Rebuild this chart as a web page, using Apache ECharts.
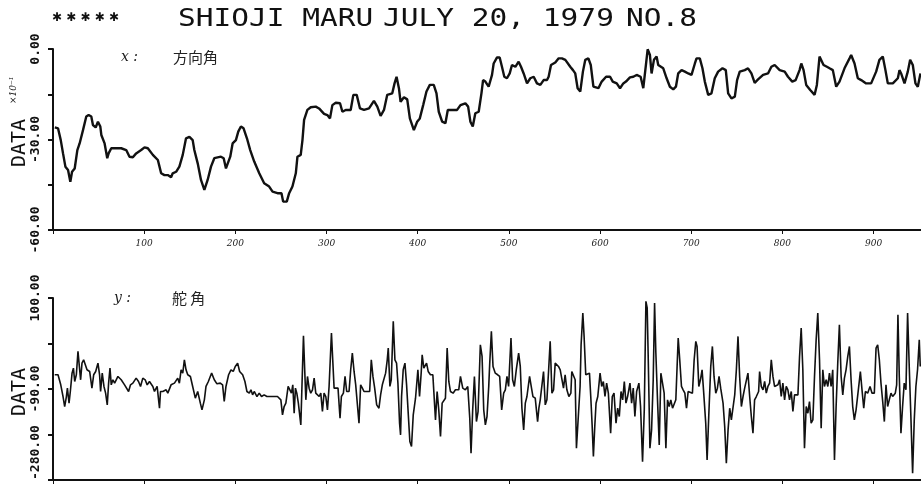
<!DOCTYPE html>
<html><head><meta charset="utf-8">
<script src="https://cdn.jsdelivr.net/npm/echarts@6/dist/echarts.min.js"></script>
<style>html,body{margin:0;padding:0;background:#fff}#c{width:921px;height:491px}</style>
</head><body><div id="c"></div>
<script>
// x: heading (方向角), values x10^-1
const headingData = [[2,-26.0],[5.5,-26.3],[8.5,-30.2],[11,-34.6],[13.6,-39.0],[16.5,-40.1],[19,-44.0],[20.9,-40.7],[23.8,-39.6],[26.7,-33.5],[29.2,-31.3],[32.9,-26.9],[36.5,-22.4],[39.1,-21.9],[42,-22.4],[43.8,-25.2],[46.8,-26.0],[49.3,-24.1],[51.9,-25.7],[53,-28.5],[56.6,-31.3],[59.5,-36.2],[61,-34.6],[63.9,-32.9],[69.4,-32.9],[74.8,-32.9],[80.3,-33.5],[83.9,-35.7],[87.6,-35.9],[91.2,-34.6],[96.7,-33.5],[100.4,-32.6],[104,-32.9],[109.5,-35.1],[115,-36.8],[116.8,-39.0],[118.6,-41.2],[122.2,-41.8],[125.9,-41.8],[129.5,-42.5],[131.3,-41.2],[135,-40.7],[138.6,-39.0],[142.3,-35.1],[145.9,-29.6],[149.6,-29.1],[153.2,-30.2],[155,-33.5],[158.7,-37.9],[162.3,-43.4],[166,-46.7],[169.6,-43.4],[173.3,-39.0],[176.9,-36.2],[184.2,-35.7],[187.2,-36.2],[189.7,-39.6],[191.5,-39.6],[194.4,-35.7],[197,-31.3],[200.6,-30.2],[203.2,-27.4],[206.1,-25.7],[209,-26.3],[212.7,-29.6],[216.3,-33.5],[220.7,-37.3],[226.2,-41.2],[231.6,-44.5],[237.1,-45.6],[240.8,-47.3],[246.2,-47.8],[250.6,-47.8],[252.4,-50.6],[256.4,-50.6],[259,-47.8],[262.6,-45.6],[266.3,-41.2],[268.1,-35.7],[271.7,-35.1],[273.6,-30.2],[275.4,-23.5],[279,-20.2],[282.7,-19.3],[288.2,-19.1],[291.8,-19.7],
[297.3,-21.5],[300.9,-21.9],[303.8,-23.0],[306.4,-18.6],[310.1,-17.8],[314.8,-18.0],[317.4,-20.8],[321,-20.2],[326.5,-20.2],[329.4,-15.2],[333.1,-15.2],[336.7,-19.7],[341.1,-20.2],[346.6,-19.7],[352,-17.2],[355.7,-19.1],[359.3,-22.2],[363,-20.2],[366.6,-15.2],[372.1,-14.7],[374.6,-11.4],[376.8,-9.2],[379.4,-13.0],[381.2,-17.5],[384.9,-16.0],[388.5,-16.7],[391.4,-23.0],[395.8,-26.9],[399.4,-24.1],[402.3,-23.0],[406,-18.6],[409.6,-14.1],[413.3,-11.9],[417.6,-11.9],[420.6,-14.7],[423.1,-20.8],[426.8,-24.1],[430.4,-24.6],[433,-20.2],[437.7,-20.2],[443.2,-20.2],[446.9,-18.6],[452.3,-18.0],[455.3,-19.1],[457.8,-24.1],[460.4,-25.7],[463.2,-21.3],[466.9,-20.8],[469.9,-14.7],[471.7,-10.3],[474.2,-10.8],[477.8,-12.5],[481.5,-8.6],[483.3,-4.8],[487,-2.8],[489.9,-2.8],[492.4,-5.9],[495,-9.2],[497.9,-9.7],[500.9,-8.1],[503.4,-5.3],[507.1,-5.9],[510.7,-4.2],[513.3,-5.9],[516.2,-8.1],[519.9,-11.4],[523.5,-9.7],[527.2,-9.2],[530.8,-11.4],[534.5,-11.9],[538.1,-10.3],[541.8,-10.3],[543.6,-9.2],[546.2,-5.3],[550.9,-4.5],[554.6,-3.1],[558.2,-3.1],[561.9,-3.6],[567.3,-5.9],[570.3,-7.0],[572.8,-8.1],[575.4,-13.0],[578.3,-14.1],[581.2,-7.5],[583.8,-3.6],[587.2,-3.1],[589.8,-5.3],[592.7,-12.5],[598.2,-13.0],[601.8,-10.8],[606.6,-9.2],[611,-9.2],[613.9,-10.8],[618.3,-11.4],[621.9,-13.0],
[625.5,-11.4],[628.4,-10.8],[632.8,-9.4],[636.5,-9.2],[640.1,-8.6],[644.5,-9.2],[647.4,-13.0],[650.3,-5.3],[652.2,-0.1],[654.7,-2.0],[656.5,-8.1],[659.1,-3.6],[662,-2.5],[663.8,-5.3],[665.7,-5.9],[669.3,-6.4],[673,-9.7],[676.6,-12.5],[680.3,-13.4],[683.2,-12.5],[685.7,-8.1],[689.4,-7.0],[693,-7.5],[696.7,-8.1],[700.3,-8.6],[704,-4.8],[705.8,-3.1],[709.4,-3.1],[712.3,-6.4],[714.9,-10.8],[718.6,-15.2],[722.2,-14.7],[725.8,-9.7],[729.5,-7.5],[734.3,-6.4],[737.9,-7.0],[740.5,-14.7],[744.1,-16.4],[747.8,-15.8],[750.3,-10.3],[753.2,-7.5],[758.7,-7.0],[762.3,-6.4],[766,-8.1],[769.6,-11.2],[773.3,-10.1],[778.8,-8.6],[784.2,-8.1],[787.9,-5.9],[791.5,-5.3],[797,-7.0],[802.5,-7.5],[806.1,-9.2],[810.8,-10.8],[814.5,-10.3],[818.8,-7.0],[820.7,-4.8],[823.2,-7.0],[826.1,-11.9],[830.5,-13.6],[835.3,-15.2],[837.8,-11.9],[840.7,-2.5],[842.6,-2.0],[845.1,-5.3],[848.8,-5.9],[851.7,-6.4],[855.3,-7.0],[859,-12.5],[862.6,-10.8],[868.1,-6.4],[873.6,-3.1],[875.4,-2.0],[879.1,-4.8],[882.7,-9.7],[886.4,-10.3],[891.8,-11.4],[897.3,-11.4],[902.8,-7.5],[906.4,-3.6],[910.1,-2.5],[913,-7.0],[915.6,-11.4],[921.1,-11.4],[926.6,-9.7],[928.4,-7.0],[930.2,-8.1],[933.9,-11.4],[937.5,-7.5],[940.1,-3.6],[943,-5.3],[945.9,-11.4],[948.5,-12.5],[951.4,-8.1]];

// y: rudder angle (舵角)
const rudderData = [[1.9,-60.3],[5.5,-60.3],[8.5,-81.3],[11.0,-105.7],[12.8,-126.6],[14.7,-105.7],[15.8,-88.2],[17.6,-119.6],[19.0,-95.2],[20.9,-56.9],[22.4,-46.4],[23.8,-74.3],[25.6,-60.3],[27.4,-11.5],[28.9,-42.9],[30.3,-70.8],[31.8,-35.9],[33.6,-29.0],[35.4,-25.5],[37.3,-49.9],[40.2,-53.4],[42.7,-88.2],[44.6,-60.3],[46.8,-53.4],[49.3,-35.9],[51.1,-60.3],[52.2,-95.2],[54.0,-56.9],[55.9,-84.7],[57.7,-98.7],[59.5,-123.1],[61.0,-77.8],[62.5,-46.4],[63.9,-81.3],[65.7,-70.8],[67.6,-77.8],[71.2,-63.8],[74.8,-70.8],[78.5,-81.3],[80.3,-77.8],[82.9,-95.2],[85.0,-81.3],[87.6,-77.8],[91.2,-67.3],[93.8,-74.3],[96.0,-84.7],[98.5,-67.3],[101.1,-70.8],[103.3,-81.3],[105.8,-74.3],[109.5,-84.7],[111.3,-95.2],[114.2,-84.7],[116.8,-130.1],[117.9,-95.2],[120.4,-95.2],[124.1,-91.7],[125.9,-98.7],[127.7,-102.2],[129.5,-81.3],[131.3,-84.7],[133.2,-77.8],[135.0,-81.3],[136.8,-67.3],[138.6,-77.8],[140.5,-49.9],[142.3,-56.9],[144.1,-29.0],[145.9,-49.9],[147.8,-60.3],[150.7,-63.8],[153.2,-84.7],[156.1,-109.2],[158.7,-95.2],[161.6,-119.6],[163.4,-133.5],[166.0,-112.6],[167.8,-84.7],[170.4,-74.3],[172.5,-63.8],[174.0,-56.9],[176.9,-70.8],[179.8,-79.2],[183.5,-77.8],[186.0,-81.3],[187.8,-116.1],[189.7,-84.7],[192.6,-60.3],[195.2,-49.9],[197.7,-53.4],[199.9,-42.9],[202.5,-35.9],[204.7,-53.4],[208.0,-60.3],[210.5,-74.3],[212.7,-95.2],[215.3,-98.7],[217.1,-91.7],[218.9,-102.2],[220.7,-95.2],[223.7,-105.7],[226.2,-98.7],[228.7,-105.7],[231.6,-102.2],[234.6,-105.7],[238.2,-105.7],[242.6,-105.7],[246.2,-105.7],[249.9,-112.6],[251.7,-144.0],[253.5,-126.6],[255.4,-119.6],[257.9,-84.7],[259.4,-81.3],[261.5,-98.7],[263.0,-81.3],[264.5,-140.5],[265.9,-88.2],[267.4,-98.7],[269.1,-119.6],
[271.8,-164.9],[274.7,21.2],[276.2,-56.9],[277.3,-112.6],[279.1,-63.8],[280.9,-88.2],[282.7,-98.7],[284.6,-91.7],[286.4,-67.3],[288.2,-98.7],[290.0,-95.2],[291.9,-105.7],[293.7,-98.7],[295.5,-137.0],[297.3,-98.7],[299.2,-105.7],[301.0,-133.5],[302.8,-84.7],[305.4,26.8],[306.8,-29.0],[308.3,-88.2],[310.1,-84.7],[312.6,-88.2],[314.8,-151.0],[316.3,-105.7],[318.5,-98.7],[320.3,-63.8],[322.1,-95.2],[324.7,-95.2],[326.5,-49.9],[328.3,-15.0],[330.2,-53.4],[332.0,-81.3],[333.8,-77.8],[335.6,-161.4],[337.4,-81.3],[339.3,-88.2],[341.1,-95.2],[344.7,-95.2],[347.3,-95.2],[349.1,-29.0],[350.9,-63.8],[352.8,-88.2],[355.0,-123.1],[357.5,-130.1],[359.3,-102.2],[361.2,-81.3],[363.0,-77.8],[364.8,-56.9],[366.6,-29.0],[367.7,-4.6],[369.5,-84.7],[371.0,-70.8],[373.2,51.2],[375.0,-29.0],[376.8,-35.9],[378.3,-77.8],[380.1,-161.4],[381.2,-185.8],[382.3,-105.7],[384.1,-49.9],[386.0,-35.9],[387.8,-81.3],[389.6,-84.7],[391.4,-199.8],[393.2,-210.2],[395.1,-144.0],[397.6,-109.2],[400.2,-49.9],[402.0,-105.7],[403.8,-56.9],[404.9,-18.5],[406.7,-46.4],[409.7,-35.9],[411.5,-53.4],[414.0,-60.3],[416.6,-60.3],[417.7,-63.8],[419.5,-154.5],[421.3,-95.2],[423.1,-133.5],[425.0,-189.3],[426.8,-119.6],[428.6,-123.1],[430.4,-109.2],[432.3,-4.6],[434.1,-74.3],[435.9,-95.2],[438.8,-98.7],[441.4,-91.7],[445.0,-91.7],[446.9,-63.8],[449.4,-88.2],[452.3,-91.7],[454.9,-84.7],[457.1,-151.0],[458.5,-224.2],[460.3,-133.5],[462.2,-63.8],[464.4,-158.0],[466.2,-137.0],[468.7,2.4],[470.6,-22.0],[472.4,-133.5],[474.2,-164.9],[476.0,-147.5],[477.9,-84.7],[479.0,-35.9],[480.8,30.3],[482.6,-42.9],[485.1,-56.9],[487.7,-60.3],[489.9,-63.8],[492.1,-133.5],[494.3,-98.7],[496.1,-91.7],[497.9,-63.8],[499.7,-84.7],[502.3,16.4],[504.1,-70.8],[506.0,-84.7],[508.1,-49.9],[510.7,-15.0],[512.5,-42.9],[514.3,-130.1],[516.2,-175.4],[518.0,-119.6],[519.8,-105.7],[522.7,-63.8],[524.5,-84.7],[526.4,-105.7],[528.9,-109.2],[531.5,-158.0],[532.9,-130.1],[534.4,-112.6],[536.2,-112.6],[538.0,-53.4],[539.9,-123.1],[541.7,-112.6],[543.5,-53.4],[545.3,9.4],[547.2,-98.7],[549.0,-91.7],[550.8,-35.9],[552.6,-39.4],[554.4,-42.9],[556.3,-49.9],[558.1,-53.4],[559.9,-88.2],[561.7,-60.3],[563.6,-91.7],[565.8,-105.7],[568.0,-98.7],[569.0,-53.4],[570.9,-53.4],[572.7,-70.8],[574.1,-213.7],[575.6,-217.2],[578.1,-84.7],[579.2,2.4],[581.1,68.6],[582.5,19.8],[584.3,-60.3],[586.2,-56.9],[588.4,-56.9],[589.8,-105.7],[591.3,-164.9],[592.7,-231.1],[594.2,-168.4],[595.6,-119.6],[597.5,-105.7],[599.3,-105.7],
[600.0,-56.9],[601.8,-84.7],[603.6,-74.3],[605.4,-105.7],[607.2,-77.8],[609.1,-98.7],[611.6,-182.3],[613.4,-105.7],[615.3,-98.7],[617.5,-161.4],[619.3,-130.1],[621.1,-147.5],[623.0,-95.2],[624.8,-112.6],[626.6,-74.3],[628.4,-119.6],[630.2,-105.7],[632.8,-77.8],[634.6,-119.6],[636.4,-88.2],[638.2,-147.5],[640.1,-95.2],[642.6,-77.8],[644.4,-126.6],[646.6,-241.6],[648.5,-133.5],[650.3,93.0],[651.7,79.1],[652.8,-22.0],[654.7,-213.7],[656.5,-175.4],[658.3,-70.8],[659.8,89.6],[661.2,-15.0],[663.0,-112.6],[664.9,-206.7],[666.7,-56.9],[668.5,-60.3],[670.3,-98.7],[672.2,-213.7],[674.0,-112.6],[675.8,-126.6],[677.6,-112.6],[679.5,-130.1],[681.0,-126.6],[683.1,-112.6],[685.7,16.4],[687.5,-32.4],[689.3,-84.7],[691.1,-91.7],[693.0,-98.7],[694.8,-130.1],[696.6,-95.2],[698.4,-98.7],[701.3,-98.7],[703.2,-29.0],[705.0,9.4],[706.4,-1.1],[708.3,-84.7],[710.1,-70.8],[711.9,-49.9],[713.7,-98.7],[715.9,-161.4],[717.4,-238.1],[719.2,-147.5],[721.4,-42.9],[723.2,-1.1],[725.0,-63.8],[726.9,-98.7],[728.7,-88.2],[730.5,-63.8],[732.3,-88.2],[734.9,-119.6],[736.7,-168.4],[738.5,-245.1],[740.4,-175.4],[742.2,-130.1],[744.0,-154.5],[745.8,-158.0],[747.7,-102.2],[749.5,-49.9],[751.3,19.8],[753.1,-63.8],[755.0,-126.6],[756.8,-105.7],[758.6,-88.2],[760.4,-91.7],[762.2,-56.9],[764.1,-105.7],[765.9,-147.5],[767.7,-182.3],[769.5,-112.6],[771.4,-105.7],[773.9,-95.2],[775.0,-53.4],[776.8,-84.7],[778.7,-91.7],[780.5,-74.3],[782.3,-98.7],[784.1,-84.7],[786.0,-77.8],[787.8,-29.0],[789.6,-63.8],[791.4,-84.7],[793.2,-84.7],[795.1,-81.3],[796.9,-70.8],[798.7,-105.7],[800.5,-77.8],[802.4,-112.6],[804.2,-84.7],[806.0,-91.7],[807.8,-112.6],[809.7,-95.2],[811.5,-137.0],[813.3,-102.2],[815.1,-105.7],[817.0,-102.2],[818.8,-22.0],[820.6,37.3],[822.4,-49.9],[824.2,-213.7],[826.1,-126.6],[827.9,-140.5],[829.7,-116.1],[831.5,-161.4],[833.4,-154.5],[835.2,-63.8],[837.0,12.9],[838.8,68.6],[840.7,-29.0],[842.5,-171.9],[844.3,-49.9],[846.1,-84.7],[848.0,-70.8],[849.8,-84.7],[851.6,-56.9],[853.4,-84.7],[855.2,-49.9],[857.1,-238.1],[858.9,-126.6],[860.7,-35.9],[862.5,44.2],[864.4,-63.8],[866.2,-102.2],[868.0,-67.3],[869.8,-49.9],[871.7,-22.0],[873.5,-1.1],[875.3,-70.8],[877.1,-126.6],[878.9,-154.5],[880.8,-133.5],[883.7,-84.7],[885.5,-53.4],[887.3,-91.7],[889.2,-130.1],[891.0,-95.2],[893.5,-98.7],[896.1,-84.7],[898.3,-98.7],[900.8,-98.7],[902.7,-4.6],[904.5,2.4],[906.3,-29.0],[908.1,-77.8],[910.0,-116.1],[911.8,-158.0],[913.6,-81.3],[915.4,-126.6],[917.2,-112.6],[919.1,-98.7],[920.9,-105.7],[923.8,-98.7],[925.3,-81.3],[926.7,65.2],[928.2,-63.8],[930.0,-182.3],[931.8,-126.6],[933.6,-77.8],[935.5,-91.7],[937.3,68.6],[939.1,-42.9],[940.9,-147.5],[942.8,-265.8],[944.6,-154.5],[946.4,-84.7],[948.2,-49.9],[950.1,12.9],[951.2,-42.9]];

const xTicks = [0,100,200,300,400,500,600,700,800,900];
const xLabels = [100,200,300,400,500,600,700,800,900];
const headingTicks = [-60,-45,-30,-15,0];
const headingLabels = [-60,-30,0];
const rudderTicks = [-280,-185,-90,5,100];
const rudderLabels = [-280,-90,100];

const chart = echarts.init(document.getElementById('c'), null, {renderer:'canvas'});
const ink = '#111';
const fmt = v => (Math.abs(v) < 1e-9 ? '0.00' : Number(v).toFixed(2));
function yAxisCfg(grid, min, max, ticks, labels, alignMin) {
  const label = {customValues: labels, rotate: 90, formatter: fmt, margin: 11,
      fontFamily: 'DejaVu Sans Mono', fontWeight: 'bold', fontSize: 13, color: ink};
  if (alignMin) label.alignMinLabel = alignMin;
  return {
    gridIndex: grid, type: 'value', min: min, max: max,
    axisLine: {show: true, onZero: false, lineStyle: {color: ink, width: 2}},
    axisTick: {show: true, customValues: ticks, length: 5, lineStyle: {color: ink, width: 2}},
    axisLabel: label,
    splitLine: {show: false}
  };
}
function xAxisCfg(grid, showLabels) {
  return {
    gridIndex: grid, type: 'value', min: 0, max: 952, position: 'bottom',
    axisLine: {show: true, onZero: false, lineStyle: {color: ink, width: 2}},
    axisTick: {show: true, customValues: xTicks, length: 4, lineStyle: {color: ink, width: 1}},
    axisLabel: {show: showLabels, customValues: xLabels, margin: 9, fontSize: 9,
      fontStyle: 'italic', fontFamily: 'DejaVu Serif', color: '#222'},
    splitLine: {show: false}
  };
}
const nameStyle = {text: 'DATA', font: '20px DejaVu Sans Mono', fill: ink, align: 'center', verticalAlign: 'middle'};
chart.setOption({
  backgroundColor: '#fff',
  animation: false,
  grid: [
    {left: 53, top: 49, right: 0, height: 181, containLabel: false, outerBoundsMode: 'none'},
    {left: 53, top: 298, right: 0, height: 182, containLabel: false, outerBoundsMode: 'none'}
  ],
  xAxis: [xAxisCfg(0, true), xAxisCfg(1, false)],
  yAxis: [yAxisCfg(0, -60, 0, headingTicks, headingLabels, null),
          yAxisCfg(1, -280, 100, rudderTicks, rudderLabels, 'left')],
  series: [
    {type: 'line', xAxisIndex: 0, yAxisIndex: 0, data: headingData, showSymbol: false,
     lineStyle: {color: ink, width: 2.4}, smooth: false},
    {type: 'line', xAxisIndex: 1, yAxisIndex: 1, data: rudderData, showSymbol: false,
     lineStyle: {color: ink, width: 1.6}, smooth: false}
  ],
  graphic: [
    {type: 'text', x: 52, y: 18, style: {text: '✱ ✱ ✱ ✱ ✱', font: 'bold 12px DejaVu Sans', fill: ink, verticalAlign: 'middle'}},
    {type: 'text', x: 178, y: 19, scaleX: 1.18, style: {text: 'SHIOJI MARU', font: '25px DejaVu Sans Mono', fill: ink, verticalAlign: 'middle'}},
    {type: 'text', x: 383, y: 19, scaleX: 1.18, style: {text: 'JULY 20, 1979', font: '25px DejaVu Sans Mono', fill: ink, verticalAlign: 'middle'}},
    {type: 'text', x: 626, y: 19, scaleX: 1.18, style: {text: 'NO.8', font: '25px DejaVu Sans Mono', fill: ink, verticalAlign: 'middle'}},
    {type: 'text', x: 20, y: 143, rotation: Math.PI / 2, style: nameStyle},
    {type: 'text', x: 20, y: 392, rotation: Math.PI / 2, style: nameStyle},
    {type: 'text', x: 14, y: 104, rotation: Math.PI / 2, style: {text: '×10⁻¹', font: 'italic 9px DejaVu Serif', fill: ink, verticalAlign: 'middle'}},
    {type: 'text', x: 121, y: 57, style: {text: 'x :', font: 'italic 14px DejaVu Serif', fill: '#222', verticalAlign: 'middle'}},
    {type: 'text', x: 173, y: 57, style: {text: '方向角', font: '15px "Noto Sans CJK JP"', fill: '#222', verticalAlign: 'middle'}},
    {type: 'text', x: 114, y: 298, style: {text: 'y :', font: 'italic 14px DejaVu Serif', fill: '#222', verticalAlign: 'middle'}},
    {type: 'text', x: 172, y: 298, style: {text: '舵 角', font: '15px "Noto Sans CJK JP"', fill: '#222', verticalAlign: 'middle'}}
  ]
});
</script>
</body></html>
